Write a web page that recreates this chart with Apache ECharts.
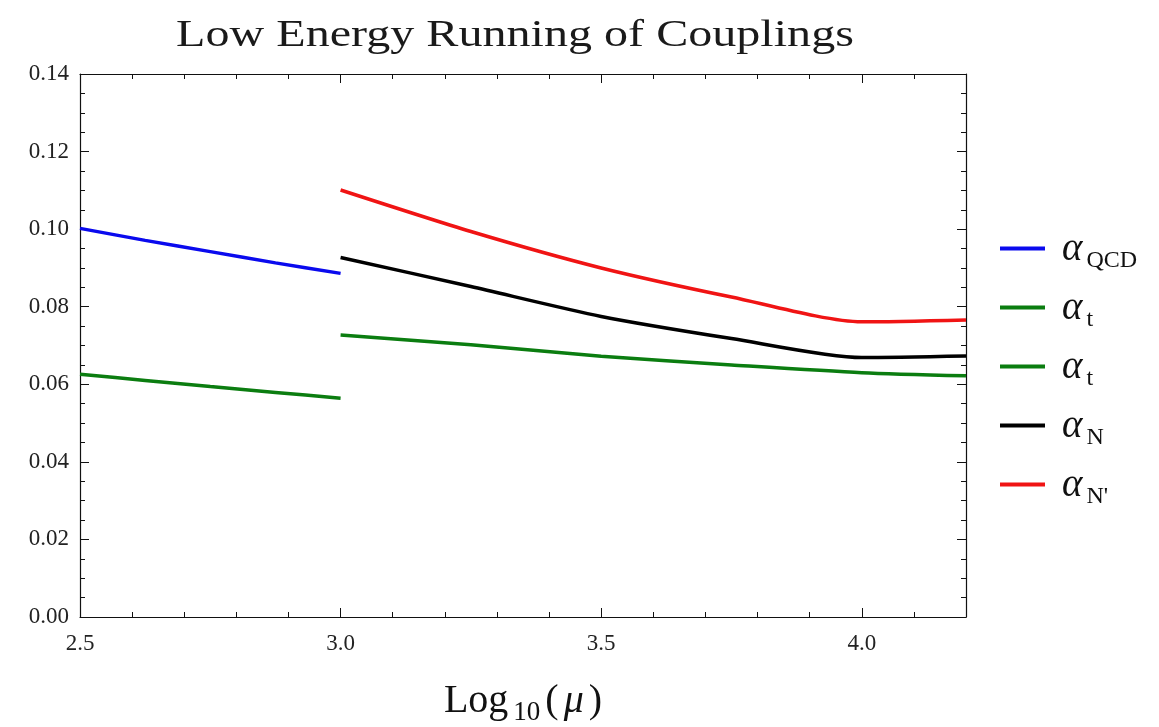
<!DOCTYPE html>
<html>
<head>
<meta charset="utf-8">
<script src="https://cdn.jsdelivr.net/npm/echarts@6/dist/echarts.min.js"></script>
<style>html,body{margin:0;padding:0;background:#fff}#c{width:1159px;height:727px}</style>
</head>
<body>
<div id="c"></div>
<script>
// ---- data ----
const titleText = 'Low Energy Running of Couplings';
const xLow = [2.5, 2.625, 2.75, 2.875, 3.0];
const xHigh = [3.0, 3.25, 3.5, 3.75, 4.0, 4.2];
const alphaQCD = [0.1002, 0.0971, 0.0942, 0.0913, 0.0886];
const alphaTLow = [0.0626, 0.0610, 0.0594, 0.0579, 0.0564];
const alphaTHigh = [0.0727, 0.0702, 0.0672, 0.0650, 0.0630, 0.0622];
const alphaN = [0.0927, 0.0852, 0.0775, 0.0718, 0.0669, 0.0673];
const alphaNp = [0.1101, 0.0994, 0.0900, 0.0825, 0.0761, 0.0766];
const seriesNames = ['QCD', 't', 't ', 'N', "N'"];
const seriesColors = ['#0a0aee', '#0b7d10', '#0b7d10', '#000000', '#f01414'];

const pairs = (xs, ys) => xs.map((x, i) => [x, ys[i]]);
const seriesData = [
  pairs(xLow, alphaQCD),
  pairs(xLow, alphaTLow),
  pairs(xHigh, alphaTHigh),
  pairs(xHigh, alphaN),
  pairs(xHigh, alphaNp)
];

const serif = '"Liberation Serif", "Times New Roman", serif';
const lbl = {fontFamily: serif, fontSize: 23, color: '#222'};

function xAx(pos, interval, len, withLabel, showLine) {
  return {
    type: 'value', position: pos, min: 2.5, max: 4.2, interval: interval,
    axisLine: {show: showLine, onZero: false, lineStyle: {color: '#111', width: 1.2}},
    axisTick: {show: true, inside: true, length: len, lineStyle: {color: '#111', width: 1}},
    axisLabel: withLabel ? Object.assign({margin: 15, showMaxLabel: false,
      formatter: v => v.toFixed(1)}, lbl) : {show: false},
    splitLine: {show: false}
  };
}
function yAx(pos, withLabel) {
  return {
    type: 'value', position: pos, min: 0, max: 0.14, interval: 0.02,
    axisLine: {show: true, onZero: false, lineStyle: {color: '#111', width: 1.2}},
    axisTick: {show: true, inside: true, length: 9, lineStyle: {color: '#111', width: 1}},
    minorTick: {show: true, splitNumber: 4, length: 5, lineStyle: {color: '#111', width: 1}},
    axisLabel: withLabel ? Object.assign({margin: 11, formatter: v => v.toFixed(2)}, lbl) : {show: false},
    splitLine: {show: false}, minorSplitLine: {show: false}
  };
}

const xMain = xAx('bottom', 0.5, 9, true, true);
xMain.name = '{r|Log}{s|10}{r|(}{i|μ}{r|)}';
xMain.nameLocation = 'middle';
xMain.nameGap = 60;
xMain.nameTextStyle = {
  rich: {
    r: {fontFamily: serif, fontSize: 40, color: '#111', verticalAlign: 'bottom', lineHeight: 44, padding: [0, 2, 0, 2]},
    i: {fontFamily: serif, fontSize: 40, fontStyle: 'italic', color: '#111', verticalAlign: 'bottom', lineHeight: 44, padding: [0, 3, 0, 3]},
    s: {fontFamily: serif, fontSize: 27, color: '#111', verticalAlign: 'bottom', lineHeight: 27, padding: [0, 3, -5, 3]}
  }
};

const chart = echarts.init(document.getElementById('c'), null, {renderer: 'canvas'});
chart.setOption({
  animation: false,
  backgroundColor: '#fff',
  grid: {left: 80, right: 193, top: 74, bottom: 110, containLabel: false, outerBoundsMode: 'none'},
  xAxis: [
    xMain,
    xAx('bottom', 0.1, 5, false, false),
    xAx('top', 0.5, 9, false, true),
    xAx('top', 0.1, 5, false, false)
  ],
  yAxis: [yAx('left', true), yAx('right', false)],
  legend: {
    orient: 'vertical', left: 1000, top: 230, padding: 0,
    icon: 'rect', itemWidth: 45, itemHeight: 4, itemGap: 16,
    data: seriesNames,
    formatter: n => '{a|α}{s|' + n.trim() + '}',
    textStyle: {
      padding: [0, 0, 0, 12],
      rich: {
        a: {fontFamily: serif, fontStyle: 'italic', fontSize: 39, color: '#111', verticalAlign: 'bottom', lineHeight: 41},
        s: {fontFamily: serif, fontSize: 24, color: '#111', verticalAlign: 'bottom', lineHeight: 24, padding: [0, 0, -4, 4]}
      }
    }
  },
  graphic: [{
    type: 'text', x: 515, y: 36, scaleX: 1.3,
    style: {text: titleText, font: '37px ' + serif, fill: '#1a1a1a', textAlign: 'center', textVerticalAlign: 'middle'}
  }],
  series: seriesNames.map((n, i) => ({
    name: n, type: 'line', xAxisIndex: 0, yAxisIndex: 0,
    data: seriesData[i], showSymbol: false, symbol: 'none',
    smooth: 0.25,
    lineStyle: {color: seriesColors[i], width: 3.5},
    itemStyle: {color: seriesColors[i]},
    clip: true
  }))
});
</script>
</body>
</html>
